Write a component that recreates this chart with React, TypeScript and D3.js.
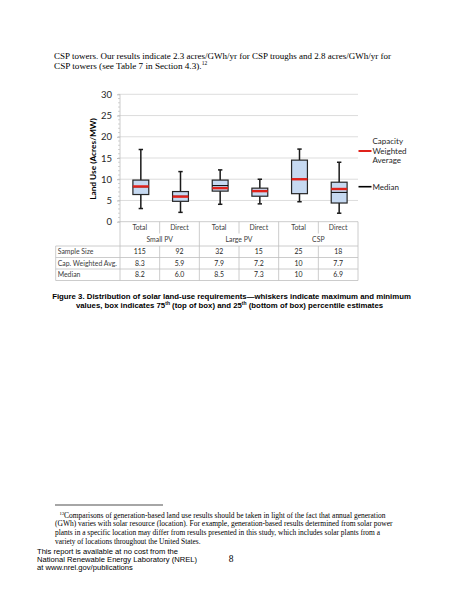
import { useEffect, useRef } from "react";
import * as d3 from "d3";

// Box plot values (acres/MW)
const categories = ["Total", "Direct", "Total", "Direct", "Total", "Direct"];
const groups = ["Small PV", "Large PV", "CSP"];
const whiskerMax = [17, 11.8, 12.2, 10, 17.1, 14];
const boxTop = [9.8, 7.1, 9.8, 7.9, 14.5, 9.3];
const boxBottom = [6.4, 4.8, 7.2, 6.0, 6.6, 4.4];
const whiskerMin = [3.1, 2.2, 4.1, 4.2, 4.7, 2.0];
const capWeighted = [8.3, 5.9, 7.9, 7.2, 10, 7.7];
const medians = [8.2, 6.0, 8.5, 7.3, 10, 6.9];
const yTicks = [0, 5, 10, 15, 20, 25, 30];

// Table rows under the chart
const rowLabels = ["Sample Size", "Cap. Weighted Avg.", "Median"];
const sampleSize = ["115", "92", "32", "15", "25", "18"];
const capWeightedText = ["8.3", "5.9", "7.9", "7.2", "10", "7.7"];
const medianText = ["8.2", "6.0", "8.5", "7.3", "10", "6.9"];

const W = 463;
const H = 599;
const CHART_FONT = "Lato, 'Open Sans', sans-serif";
const SERIF = "'Liberation Serif', 'Times New Roman', serif";
const SANS = "'Liberation Sans', Arial, sans-serif";

export default function App() {
  const svgRef = useRef<SVGSVGElement>(null);

  useEffect(() => {
    if (!svgRef.current) return;
    const svg = d3.select(svgRef.current);
    svg.selectAll("*").remove();

    svg.append("rect").attr("width", W).attr("height", H).attr("fill", "#fff");

    // ---- body paragraph above the figure
    const para = svg
      .append("g")
      .attr("font-family", SERIF)
      .attr("font-size", 9.2)
      .attr("fill", "#000");
    para
      .append("text")
      .attr("x", 54)
      .attr("y", 59)
      .attr("textLength", 337)
      .attr("lengthAdjust", "spacingAndGlyphs")
      .text(
        "CSP towers. Our results indicate 2.3 acres/GWh/yr for CSP troughs and 2.8 acres/GWh/yr for"
      );
    const p2 = para.append("text").attr("x", 54).attr("y", 68.5);
    p2.append("tspan").text("CSP towers (see Table 7 in Section 4.3).");
    p2.append("tspan").attr("dy", -3.5).attr("font-size", 5.5).text("12");

    // ---- chart
    const left = 120;
    const right = 358;
    const y = d3.scaleLinear().domain([0, 30]).range([221.7, 94.3]);
    const x = d3
      .scaleBand<number>()
      .domain(d3.range(categories.length))
      .range([left, right]);
    const gx = d3.scaleBand<string>().domain(groups).range([left, right]);
    const bw = x.bandwidth() * 0.4;
    const cx = (i: number) => x(i)! + x.bandwidth() / 2 + 1;

    const chart = svg.append("g").attr("font-family", CHART_FONT);

    // gridlines
    chart
      .append("g")
      .selectAll("line")
      .data(yTicks.filter((t) => t > 0))
      .enter()
      .append("line")
      .attr("x1", left)
      .attr("x2", right)
      .attr("y1", (d) => y(d))
      .attr("y2", (d) => y(d))
      .attr("stroke", "#d9d9d9")
      .attr("stroke-width", 0.9);

    // minor ticks
    chart
      .append("g")
      .selectAll("line")
      .data(d3.range(0, 31))
      .enter()
      .append("line")
      .attr("x1", left - 2)
      .attr("x2", left)
      .attr("y1", (d) => y(d))
      .attr("y2", (d) => y(d))
      .attr("stroke", "#bfbfbf")
      .attr("stroke-width", 0.7);

    // y axis
    const yAxis = chart
      .append("g")
      .attr("transform", `translate(${left},0)`)
      .call(d3.axisLeft(y).tickValues(yTicks).tickSize(3).tickPadding(5));
    yAxis.select(".domain").remove();
    yAxis.selectAll(".tick line").attr("stroke", "#bfbfbf");
    yAxis
      .selectAll("text")
      .attr("fill", "#262626")
      .attr("font-family", CHART_FONT)
      .attr("font-size", 9.5);

    chart
      .append("text")
      .attr("transform", `translate(95.5,${(y(0) + y(30)) / 2 + 1}) rotate(-90)`)
      .attr("text-anchor", "middle")
      .attr("font-size", 8.3)
      .attr("font-weight", "bold")
      .attr("fill", "#000")
      .text("Land Use (Acres/MW)");

    // whiskers
    const idx = d3.range(categories.length);
    const whisk = chart
      .append("g")
      .attr("stroke", "#1a1a1a")
      .attr("stroke-width", 1.5);
    idx.forEach((i) => {
      whisk
        .append("line")
        .attr("x1", cx(i))
        .attr("x2", cx(i))
        .attr("y1", y(whiskerMax[i]))
        .attr("y2", y(boxTop[i]));
      whisk
        .append("line")
        .attr("x1", cx(i))
        .attr("x2", cx(i))
        .attr("y1", y(boxBottom[i]))
        .attr("y2", y(whiskerMin[i]));
      [whiskerMax[i], whiskerMin[i]].forEach((v) =>
        whisk
          .append("line")
          .attr("x1", cx(i) - 2.2)
          .attr("x2", cx(i) + 2.2)
          .attr("y1", y(v))
          .attr("y2", y(v))
      );
    });

    // boxes
    chart
      .append("g")
      .selectAll("rect")
      .data(idx)
      .enter()
      .append("rect")
      .attr("x", (i) => cx(i) - bw / 2)
      .attr("y", (i) => y(boxTop[i]))
      .attr("width", bw)
      .attr("height", (i) => y(boxBottom[i]) - y(boxTop[i]))
      .attr("fill", "#c6d9f1")
      .attr("stroke", "#262626")
      .attr("stroke-width", 1.2);

    // median
    chart
      .append("g")
      .selectAll("line")
      .data(idx)
      .enter()
      .append("line")
      .attr("x1", (i) => cx(i) - bw / 2)
      .attr("x2", (i) => cx(i) + bw / 2)
      .attr("y1", (i) => y(medians[i]))
      .attr("y2", (i) => y(medians[i]))
      .attr("stroke", "#000")
      .attr("stroke-width", 1);

    // capacity weighted average
    chart
      .append("g")
      .selectAll("line")
      .data(idx)
      .enter()
      .append("line")
      .attr("x1", (i) => cx(i) - bw / 2)
      .attr("x2", (i) => cx(i) + bw / 2)
      .attr("y1", (i) => y(capWeighted[i]))
      .attr("y2", (i) => y(capWeighted[i]))
      .attr("stroke", "#e0221b")
      .attr("stroke-width", 2.4);

    // legend
    const legend = chart
      .append("g")
      .attr("font-size", 8)
      .attr("fill", "#262626");
    legend
      .append("line")
      .attr("x1", 358.5)
      .attr("x2", 371.5)
      .attr("y1", 151)
      .attr("y2", 151)
      .attr("stroke", "#e0221b")
      .attr("stroke-width", 2);
    ["Capacity", "Weighted", "Average"].forEach((t, k) =>
      legend
        .append("text")
        .attr("x", 372.5)
        .attr("y", 144 + k * 9.7)
        .text(t)
    );
    legend
      .append("line")
      .attr("x1", 358.5)
      .attr("x2", 371.5)
      .attr("y1", 186.7)
      .attr("y2", 186.7)
      .attr("stroke", "#000")
      .attr("stroke-width", 1.6);
    legend.append("text").attr("x", 372.5).attr("y", 189.6).text("Median");

    // ---- data table
    const tableLeft = 55.7;
    const rowLines = [246, 257.5, 269, 280.5];
    const grid = chart
      .append("g")
      .attr("stroke", "#bfbfbf")
      .attr("stroke-width", 0.8);
    // x axis line and plot left edge
    grid
      .append("line")
      .attr("x1", left)
      .attr("x2", right)
      .attr("y1", y(0))
      .attr("y2", y(0));
    grid
      .append("line")
      .attr("x1", left)
      .attr("x2", left)
      .attr("y1", y(30))
      .attr("y2", rowLines[3]);
    rowLines.forEach((ly) =>
      grid
        .append("line")
        .attr("x1", tableLeft)
        .attr("x2", right)
        .attr("y1", ly)
        .attr("y2", ly)
    );
    grid
      .append("line")
      .attr("x1", tableLeft)
      .attr("x2", tableLeft)
      .attr("y1", rowLines[0])
      .attr("y2", rowLines[3]);
    // column dividers
    idx.forEach((i) => {
      const xr = x(i)! + x.bandwidth();
      const isGroupEdge = (i + 1) % 2 === 0;
      if (isGroupEdge) {
        grid
          .append("line")
          .attr("x1", xr)
          .attr("x2", xr)
          .attr("y1", y(0))
          .attr("y2", rowLines[3]);
      } else {
        grid
          .append("line")
          .attr("x1", xr)
          .attr("x2", xr)
          .attr("y1", y(0))
          .attr("y2", 233.5);
        grid
          .append("line")
          .attr("x1", xr)
          .attr("x2", xr)
          .attr("y1", rowLines[0])
          .attr("y2", rowLines[3]);
      }
    });

    const table = chart
      .append("g")
      .attr("font-size", 6.9)
      .attr("fill", "#404040");
    table
      .selectAll("text.cat")
      .data(idx)
      .enter()
      .append("text")
      .attr("class", "cat")
      .attr("x", (i) => x(i)! + x.bandwidth() / 2)
      .attr("y", 230)
      .attr("text-anchor", "middle")
      .text((i) => categories[i]);
    table
      .selectAll("text.grp")
      .data(groups)
      .enter()
      .append("text")
      .attr("class", "grp")
      .attr("x", (g) => gx(g)! + gx.bandwidth() / 2)
      .attr("y", 242)
      .attr("text-anchor", "middle")
      .text((g) => g);

    const rows = [sampleSize, capWeightedText, medianText];
    rows.forEach((vals, r) => {
      const baseline = (rowLines[r] + rowLines[r + 1]) / 2 + 2.4;
      table
        .append("text")
        .attr("x", tableLeft + 2)
        .attr("y", baseline)
        .text(rowLabels[r]);
      vals.forEach((v, i) =>
        table
          .append("text")
          .attr("x", x(i)! + x.bandwidth() / 2)
          .attr("y", baseline)
          .attr("text-anchor", "middle")
          .attr("fill", "#262626")
          .text(v)
      );
    });

    // ---- caption
    const cap = svg
      .append("g")
      .attr("font-family", SANS)
      .attr("font-weight", "bold")
      .attr("font-size", 7.8)
      .attr("fill", "#000")
      .attr("text-anchor", "middle");
    cap
      .append("text")
      .attr("x", 231.5)
      .attr("y", 299)
      .text(
        "Figure 3. Distribution of solar land-use requirements\u2014whiskers indicate maximum and minimum"
      );
    const c2 = cap.append("text").attr("x", 229.5).attr("y", 308);
    c2.append("tspan").text("values, box indicates 75");
    c2.append("tspan").attr("dy", -3).attr("font-size", 5).text("th");
    c2.append("tspan").attr("dy", 3).text(" (top of box) and 25");
    c2.append("tspan").attr("dy", -3).attr("font-size", 5).text("th");
    c2.append("tspan")
      .attr("dy", 3)
      .text(" (bottom of box) percentile estimates");

    // ---- footnote
    svg
      .append("line")
      .attr("x1", 55)
      .attr("x2", 163)
      .attr("y1", 505)
      .attr("y2", 505)
      .attr("stroke", "#000")
      .attr("stroke-width", 0.7);
    const foot = svg
      .append("g")
      .attr("font-family", SERIF)
      .attr("font-size", 7.4)
      .attr("fill", "#000");
    foot
      .append("text")
      .attr("x", 59.5)
      .attr("y", 514.5)
      .attr("font-size", 4.8)
      .text("12");
    foot
      .append("text")
      .attr("x", 64)
      .attr("y", 517.5)
      .attr("textLength", 321.5)
      .attr("lengthAdjust", "spacingAndGlyphs")
      .text(
        "Comparisons of generation-based land use results should be taken in light of the fact that annual generation"
      );
    foot
      .append("text")
      .attr("x", 55)
      .attr("y", 526.3)
      .attr("textLength", 337.5)
      .attr("lengthAdjust", "spacingAndGlyphs")
      .text(
        "(GWh) varies with solar resource (location). For example, generation-based results determined from solar power"
      );
    foot
      .append("text")
      .attr("x", 55)
      .attr("y", 535)
      .attr("textLength", 325)
      .attr("lengthAdjust", "spacingAndGlyphs")
      .text(
        "plants in a specific location may differ from results presented in this study, which includes solar plants from a"
      );
    foot
      .append("text")
      .attr("x", 55)
      .attr("y", 543.8)
      .text("variety of locations throughout the United States.");

    // ---- page footer
    const footer = svg
      .append("g")
      .attr("font-family", SANS)
      .attr("font-size", 7.6)
      .attr("fill", "#000");
    ["This report is available at no cost from the", "National Renewable Energy Laboratory (NREL)", "at www.nrel.gov/publications"].forEach(
      (t, k) =>
        footer
          .append("text")
          .attr("x", 37)
          .attr("y", 553.5 + k * 8)
          .text(t)
    );
    svg
      .append("text")
      .attr("x", 231)
      .attr("y", 561.5)
      .attr("text-anchor", "middle")
      .attr("font-family", SERIF)
      .attr("font-size", 9.5)
      .text("8");
  }, []);

  return (
    <svg
      ref={svgRef}
      width={W}
      height={H}
      style={{ position: "absolute", left: 0, top: 0, display: "block" }}
    ></svg>
  );
}
